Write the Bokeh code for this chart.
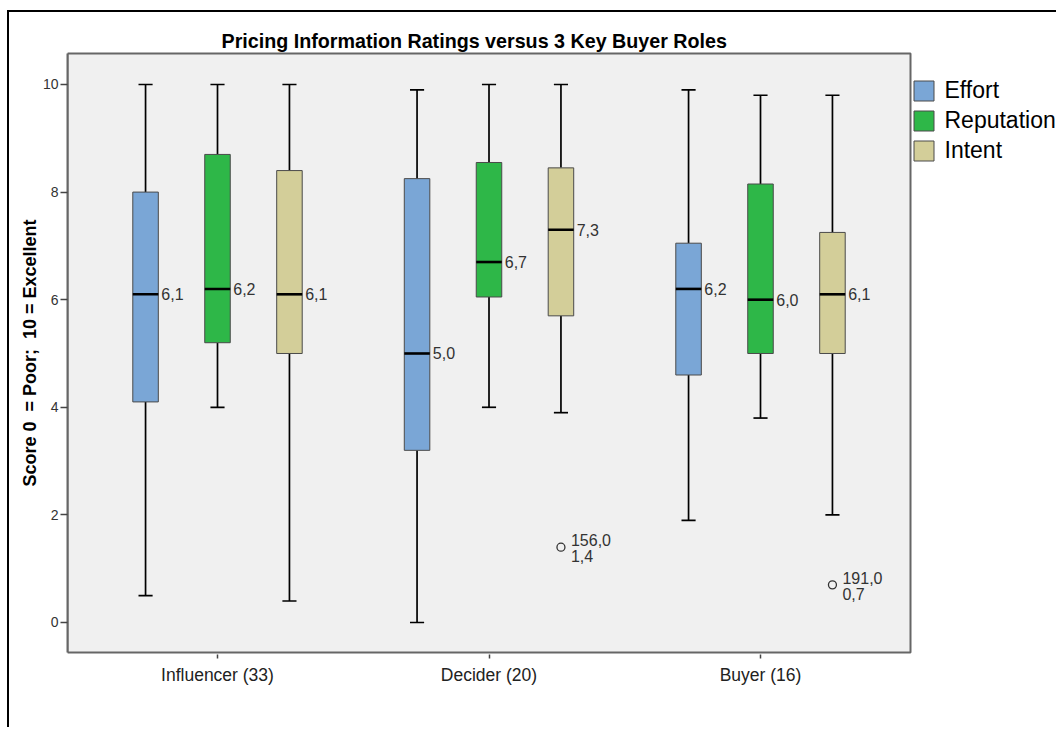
from bokeh.plotting import figure
from bokeh.models import Range1d, FixedTicker, Legend, LegendItem, ColumnDataSource
from bokeh.core.properties import value
from bokeh.embed import file_html
from bokeh.resources import INLINE

# Buyer roles on the x axis and the three rated measures
roles = ["Influencer (33)", "Decider (20)", "Buyer (16)"]
measures = ["Effort", "Reputation", "Intent"]
colors = ["#7AA6D6", "#2EB748", "#D3CE99"]

# Box-plot statistics per measure, one value per role
effort_min = [0.5, 0.0, 1.9]
effort_q1 = [4.1, 3.2, 4.6]
effort_med = [6.1, 5.0, 6.2]
effort_q3 = [8.0, 8.25, 7.05]
effort_max = [10.0, 9.9, 9.9]

reputation_min = [4.0, 4.0, 3.8]
reputation_q1 = [5.2, 6.05, 5.0]
reputation_med = [6.2, 6.7, 6.0]
reputation_q3 = [8.7, 8.55, 8.15]
reputation_max = [10.0, 10.0, 9.8]

intent_min = [0.4, 3.9, 2.0]
intent_q1 = [5.0, 5.7, 5.0]
intent_med = [6.1, 7.3, 6.1]
intent_q3 = [8.4, 8.45, 7.25]
intent_max = [10.0, 10.0, 9.8]

# Outlying cases: role, measure, score and case number
outlier_role = ["Decider (20)", "Buyer (16)"]
outlier_measure = ["Intent", "Intent"]
outlier_value = [1.4, 0.7]
outlier_case = [156.0, 191.0]

stats = {
    "Effort": (effort_min, effort_q1, effort_med, effort_q3, effort_max),
    "Reputation": (reputation_min, reputation_q1, reputation_med, reputation_q3, reputation_max),
    "Intent": (intent_min, intent_q1, intent_med, intent_q3, intent_max),
}

FONT = "Liberation Sans"
dodge = {"Effort": -0.265, "Reputation": 0.0, "Intent": 0.265}
box_half = 0.047
cap_half = 0.026

# chart area (grey panel) in axis units; the canvas frame extends to the right
# of it so the legend can sit beside the panel
PANEL_X = (-0.5525, 2.5525)
PANEL_Y = (-0.558, 10.576)


def fmt(v):
    return f"{v:.1f}".replace(".", ",")


p = figure(
    width=1049, height=717,
    x_range=Range1d(-0.5525, 3.0976), y_range=Range1d(-0.5948, 10.613),
    output_backend="svg", toolbar_location=None,
    min_border_left=58, min_border_right=0, min_border_top=39, min_border_bottom=75,
    title="Pricing Information Ratings versus 3 Key Buyer Roles",
)
p.styles = {"border-left": "2px solid black", "border-top": "2px solid black"}
p.margin = (10, 0, 0, 7)

p.background_fill_color = "white"
p.border_fill_color = "white"
p.outline_line_color = None
p.grid.visible = False

p.title.text_font = FONT
p.title.text_font_size = "19.7px"
p.title.text_font_style = "bold"
p.title.text_color = "black"
p.title.align = "left"
p.title.offset = 150
p.title.standoff = 0
p.title.padding = (4, 0, 0, 0)

p.xaxis.ticker = FixedTicker(ticks=[0, 1, 2])
p.xaxis.major_label_overrides = {i: r for i, r in enumerate(roles)}
p.xaxis.major_label_text_font = FONT
p.xaxis.major_label_text_font_size = "17.5px"
p.xaxis.major_label_text_color = "#222222"
p.xaxis.major_label_standoff = 6
p.xaxis.axis_line_color = None
p.xaxis.major_tick_out = 4

p.yaxis.ticker = FixedTicker(ticks=[0, 2, 4, 6, 8, 10])
p.yaxis.bounds = PANEL_Y
p.yaxis.major_label_text_font = FONT
p.yaxis.major_label_text_font_size = "14px"
p.yaxis.major_label_text_color = "#333333"
p.yaxis.major_label_standoff = 2
p.yaxis.axis_label = "Score 0\u00a0 = Poor;\u00a0 10 = Excellent"
p.yaxis.axis_label_text_font = FONT
p.yaxis.axis_label_text_font_size = "18px"
p.yaxis.axis_label_text_font_style = "bold"
p.yaxis.axis_label_text_color = "black"
p.yaxis.axis_label_standoff = 0
p.yaxis.axis_line_color = "#666666"
p.yaxis.axis_line_width = 2
p.yaxis.major_tick_out = 7

for ax in (p.xaxis, p.yaxis):
    ax.major_tick_line_color = "#444444"
    ax.major_tick_line_width = 1.5
    ax.major_tick_in = 0
    ax.minor_tick_line_color = None

# grey chart panel with its border
p.quad(left=[PANEL_X[0]], right=[PANEL_X[1]], bottom=[PANEL_Y[0]], top=[PANEL_Y[1]],
       fill_color="#F0F0F0", line_color="#666666", line_width=2)

legend_items = []
for m, color in zip(measures, colors):
    lo, q1, med, q3, hi = stats[m]
    xs = [i + dodge[m] for i in range(len(roles))]
    src = ColumnDataSource(dict(
        x=xs, left=[x - box_half for x in xs], right=[x + box_half for x in xs],
        cl=[x - cap_half for x in xs], cr=[x + cap_half for x in xs],
        lo=lo, q1=q1, med=med, q3=q3, hi=hi, lab=[fmt(v) for v in med],
    ))
    # whiskers and caps
    p.segment(x0="x", x1="x", y0="q3", y1="hi", source=src, line_color="black", line_width=1.7)
    p.segment(x0="x", x1="x", y0="lo", y1="q1", source=src, line_color="black", line_width=1.7)
    p.segment(x0="cl", x1="cr", y0="hi", y1="hi", source=src, line_color="black", line_width=1.7)
    p.segment(x0="cl", x1="cr", y0="lo", y1="lo", source=src, line_color="black", line_width=1.7)
    # box
    r = p.quad(left="left", right="right", bottom="q1", top="q3", source=src,
               fill_color=color, line_color="#4A4A4A", line_width=1)
    # median line and its value
    p.segment(x0="left", x1="right", y0="med", y1="med", source=src, line_color="black", line_width=2.6)
    p.text(x="right", y="med", text="lab", source=src, x_offset=3,
           text_baseline="middle", text_align="left", text_font=value(FONT),
           text_font_size="16px", text_color="#333333")
    legend_items.append(LegendItem(label=m, renderers=[r]))

ox = [roles.index(r) + dodge[m] for r, m in zip(outlier_role, outlier_measure)]
osrc = ColumnDataSource(dict(
    x=ox, y=outlier_value,
    case=[fmt(c) for c in outlier_case], val=[fmt(v) for v in outlier_value],
))
p.scatter(x="x", y="y", source=osrc, marker="circle", size=8, fill_color=None,
          line_color="#333333", line_width=1.3)
p.text(x="x", y="y", text="case", source=osrc, x_offset=10, y_offset=-7,
       text_baseline="middle", text_align="left", text_font=value(FONT),
       text_font_size="16px", text_color="#333333")
p.text(x="x", y="y", text="val", source=osrc, x_offset=10, y_offset=9,
       text_baseline="middle", text_align="left", text_font=value(FONT),
       text_font_size="16px", text_color="#333333")

# legend beside the grey panel
legend = Legend(items=legend_items, location=(843.5, 490.5), orientation="vertical")
legend.label_text_font = FONT
legend.label_text_font_size = "23px"
legend.label_text_color = "black"
legend.glyph_width = 25
legend.glyph_height = 25
legend.label_height = 20
legend.label_standoff = 9
legend.spacing = 3
legend.padding = 0
legend.margin = 0
legend.border_line_color = None
legend.background_fill_alpha = 0
p.add_layout(legend, "center")

open("out.html", "w").write(file_html(p, INLINE))
